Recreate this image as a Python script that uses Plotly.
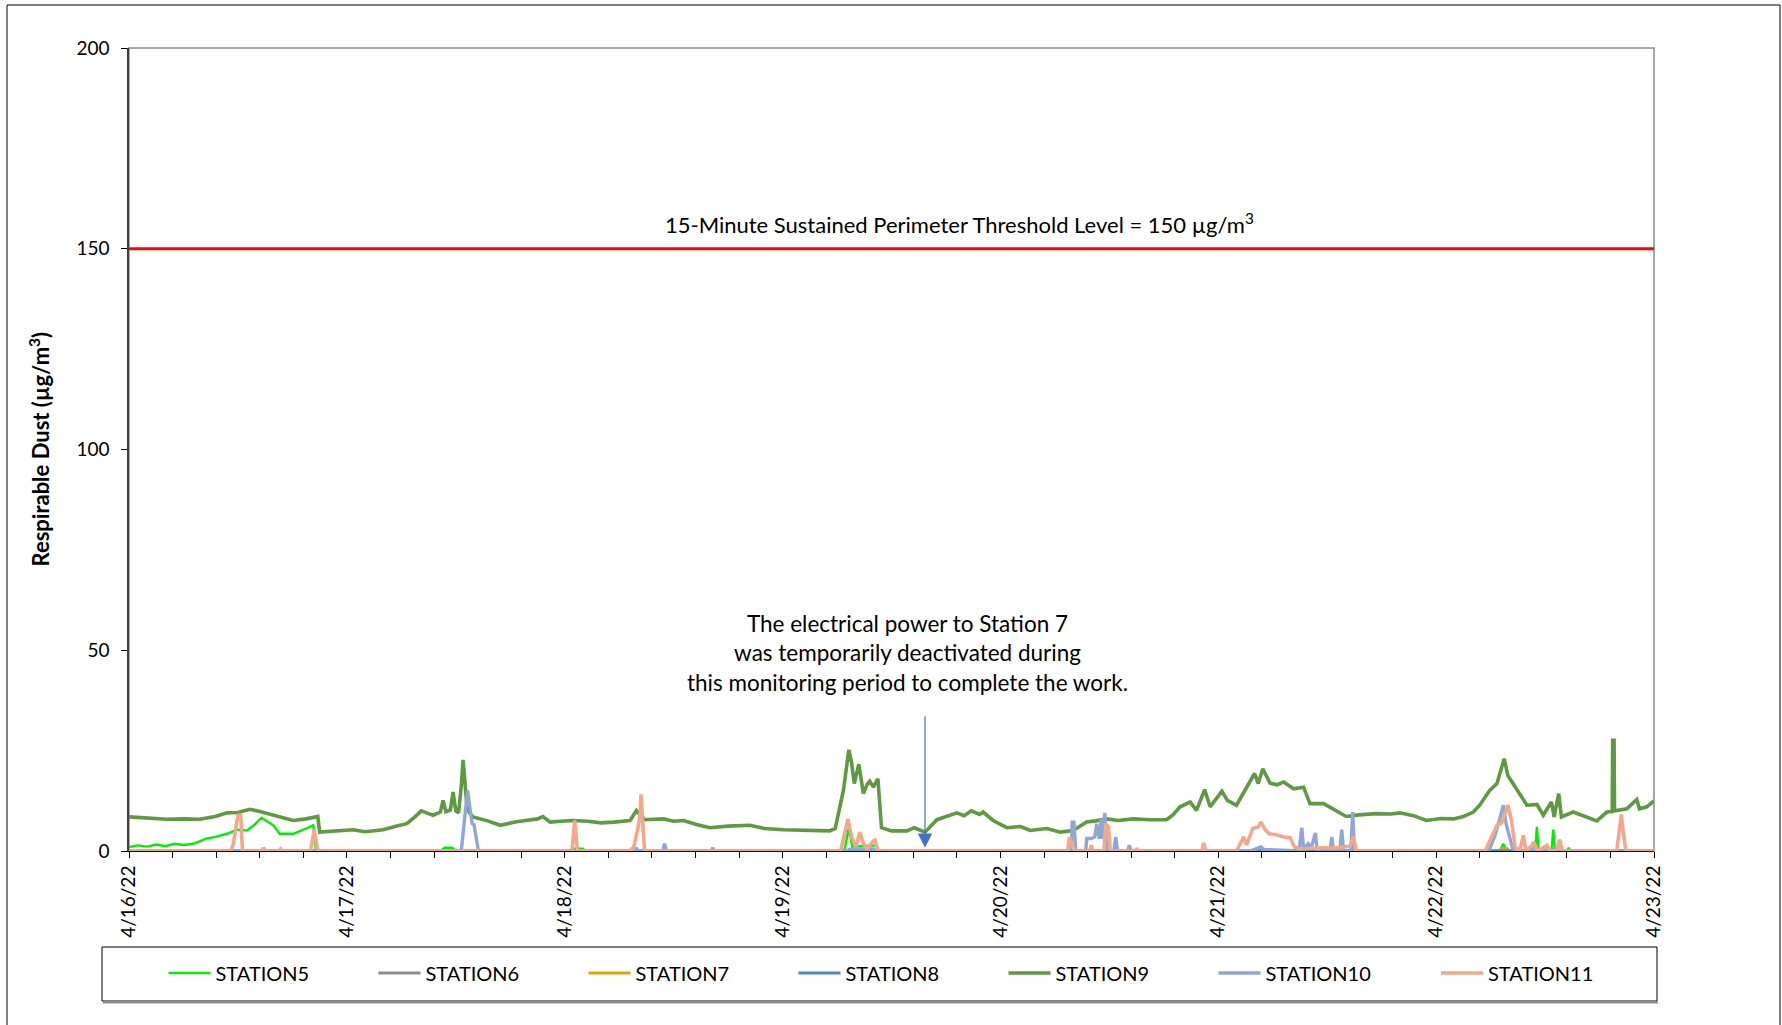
import pandas as pd
import plotly.graph_objects as go

START = pd.Timestamp("2022-04-16 00:00")
END = pd.Timestamp("2022-04-23 00:00")

# ---- data: hours since 4/16/22 00:00 and concentrations (µg/m³) ----
st5_h = [0, 1, 2, 3, 4, 5, 6, 7.1, 8.5, 9.5, 10.8, 11.9, 13.0, 13.8, 14.6, 15.2, 15.9, 16.6, 18.1, 19.5, 20.3, 20.6,
         34.3, 34.8, 35.6, 36.0, 48.6, 48.8, 50.0, 50.2, 78.8, 79.3, 79.7, 80.5, 82.3, 82.6,
         151.0, 151.4, 151.8, 154.9, 155.1, 155.3, 156.7, 156.9, 157.1, 158.4, 158.6, 158.8, 168]
st5_v = [1.0, 1.4, 1.1, 1.6, 1.2, 1.8, 1.5, 1.8, 3.1, 3.5, 4.3, 5.3, 5.1, 6.5, 8.3, 7.5, 6.4, 4.3, 4.3, 5.6, 6.4, 0,
         0, 0.8, 0.8, 0, 0, 0.6, 0.6, 0, 0, 5.8, 0.8, 1.2, 1.4, 0,
         0, 1.8, 0, 0, 6.0, 0, 0, 5.3, 0, 0, 0.8, 0, 0]

st6_h = [0, 168]
st6_v = [0, 0]

st7_h = [0, 124.6, 124.8, 125.0, 151.0, 151.2, 151.8, 152.0, 168]
st7_v = [0, 0, 0.5, 0, 0, 0.6, 0.6, 0, 0]

st8_h = [0, 168]
st8_v = [0, 0]

st9_h = [0, 2, 4.15, 6, 7.8, 9.5, 10.8, 12, 13.3, 14.5, 15.9, 17, 18.1, 19.5, 20.5, 20.8, 21.0, 22.5, 24.7, 26,
         28.0, 29.5, 30.6, 31.5, 32.2, 33.0, 33.5, 34.3, 34.6, 34.9, 35.4, 35.7, 36.0, 36.3, 36.6, 36.8, 37.0,
         37.2, 37.5, 37.9, 39.5, 40.9, 42.5, 43.8, 45.0, 45.6, 46.4, 47.5, 48.9, 50.5, 52, 53.4, 55.2, 55.9,
         56.8, 58.9, 60, 61.1, 62.5, 64.0, 66, 68.4, 70, 72.1, 74.5, 77.2, 77.8, 78.7, 79.3, 79.6, 79.9, 80.4,
         80.9, 81.3, 81.6, 82.0, 82.5, 82.9, 84, 85.7, 86.5, 87.7, 89.0, 90, 91.2, 92, 92.8, 93.7, 94.1, 95.2,
         96.7, 98.2, 99.3, 101.1, 102.6, 104.0, 105.5, 106.5, 107.7, 109, 110.6, 112.5, 114.3, 115.0, 115.8,
         116.9, 117.6, 118.5, 119.1, 120.4, 121, 122.0, 123.1, 124.0, 124.4, 124.9, 125.7, 126.5, 127.2, 128.3,
         129.4, 130.1, 131.6, 133.0, 134.1, 135.5, 137.4, 139, 140.0, 141.5, 142.9, 144.5, 145.9, 147, 148.1,
         148.8, 149.9, 150.7, 151.5, 151.9, 152.9, 154.0, 155.1, 155.8, 156.7, 157.0, 157.5, 157.8, 159.1,
         160.6, 161.7, 162.8, 163.4, 163.45, 163.6, 163.65, 165.0, 166.1, 166.4, 167.2, 168.0]
st9_v = [8.5, 8.3, 7.9, 8.0, 7.9, 8.6, 9.5, 9.6, 10.4, 9.8, 8.9, 8.2, 7.6, 8.0, 8.5, 8.6, 4.7, 5.0, 5.3, 4.8,
         5.3, 6.2, 6.8, 8.5, 10.0, 9.3, 8.9, 9.7, 12.6, 9.8, 10.2, 14.7, 10.0, 9.5, 16.0, 22.7, 16.8,
         12.0, 9.5, 8.5, 7.5, 6.4, 7.2, 7.6, 8.0, 8.6, 7.2, 7.4, 7.6, 7.4, 7.0, 7.2, 7.6, 10.1,
         7.8, 8.0, 7.4, 7.6, 6.6, 5.8, 6.2, 6.4, 5.6, 5.3, 5.1, 5.0, 5.6, 15.1, 25.2, 22.0, 16.8, 21.6,
         14.3, 16.5, 17.4, 15.9, 18.0, 5.8, 5.0, 5.0, 5.8, 4.7, 7.8, 8.6, 9.5, 8.8, 10.0, 9.1, 9.7, 7.6,
         5.8, 6.1, 5.1, 5.6, 4.7, 5.1, 7.2, 7.5, 8.0, 7.6, 8.0, 7.8, 7.8, 9.0, 11.0,
         12.2, 10.1, 15.3, 11.0, 14.9, 12.6, 11.4, 15.9, 19.3, 16.8, 20.5, 16.9, 16.5, 17.2, 15.5,
         15.9, 11.8, 11.8, 10.1, 8.6, 9.0, 9.3, 9.2, 9.5, 8.8, 7.6, 8.1, 8.0, 8.6, 9.7,
         11.4, 15.1, 16.8, 23.0, 18.8, 15.1, 11.4, 11.6, 8.9, 12.2, 8.5, 14.3, 8.5, 9.7,
         8.5, 7.5, 9.7, 9.8, 27.6, 27.6, 10.0, 10.5, 12.8, 10.5, 11.0, 12.5]

st10_h = [0, 14.7, 14.9, 15.1, 36.6, 37.0, 37.3, 37.6, 37.8, 38.0, 38.3, 38.5, 55.7, 55.9, 56.1, 58.8, 59.0, 59.2,
          64.1, 64.3, 64.5, 79.0, 79.5, 82.0, 82.3, 103.8, 103.9, 104.1, 104.3, 105.4, 105.5, 106.0, 106.4,
          106.6, 106.9, 107.1, 107.3, 107.5, 107.7, 108.5, 108.7, 108.9, 110.0, 110.2, 110.4, 123.5, 124.7,
          125.0, 128.9, 129.2, 129.4, 129.9, 130.2, 130.7, 130.9, 132.3, 132.5, 132.7, 133.4, 133.6, 133.8,
          134.6, 134.8, 135.0, 149.8, 150.5, 151.0, 151.4, 151.7, 152.1, 152.5, 154.5, 154.7, 154.9, 156.8,
          157.0, 157.2, 168]
st10_v = [0, 0, 0.5, 0, 0, 9.0, 15.1, 10.0, 6.8, 6.6, 2.0, 0, 0, 0.8, 0, 0, 1.8, 0,
          0, 0.8, 0, 0, 0.5, 0.5, 0, 0, 7.2, 7.2, 0, 0, 3.1, 3.1, 3.5,
          6.8, 3.0, 8.0, 3.0, 9.5, 0, 0, 3.5, 0, 0, 1.4, 0, 0, 1.0,
          0.4, 0, 5.8, 0.5, 1.8, 0.5, 4.5, 0, 0, 3.5, 0, 0, 5.3, 0,
          0, 9.7, 0, 0, 4.0, 8.0, 11.4, 6.8, 3.0, 0, 0, 2.2, 0, 0,
          0.8, 0, 0]

st11_h = [0, 11.2, 11.5, 12.0, 12.3, 12.5, 14.6, 14.8, 15.0, 16.5, 16.7, 16.9, 20.0, 20.4, 20.8, 48.8, 49.1, 49.4,
          55.1, 55.6, 56.1, 56.3, 56.4, 56.6, 56.8, 78.4, 78.9, 79.2, 79.6, 80.1, 80.5, 80.9, 81.3, 82.0, 82.2,
          82.5, 103.4, 103.6, 103.9, 104.2, 105.8, 106.0, 106.2, 107.4, 107.6, 107.9, 108.1, 110.9, 111.0,
          111.2, 118.2, 118.4, 118.6, 122.0, 122.8, 123.1, 123.8, 124.4, 124.7, 125.1, 125.6, 126.5, 127.2,
          127.9, 128.4, 129.0, 131.5, 133.0, 134.5, 134.9, 135.2, 149.4, 150.2, 150.7, 151.2, 151.9, 152.3,
          152.7, 153.2, 153.6, 153.9, 154.8, 155.2, 156.2, 156.5, 157.3, 157.6, 157.9, 163.9, 164.2, 164.4,
          164.6, 164.9, 168]
st11_v = [0, 0, 1.8, 8.9, 8.9, 0, 0, 0.8, 0, 0, 0.5, 0, 0, 5.3, 0, 0, 7.6, 0,
          0, 1.0, 6.0, 9.0, 14.1, 6.0, 0, 0, 5.0, 8.0, 3.5, 1.0, 4.7, 1.8, 0.5, 2.5, 2.7,
          0, 0, 3.5, 1.5, 0, 0, 1.4, 0, 0, 6.8, 6.0, 0, 0, 0.7,
          0, 0, 2.0, 0, 0, 3.5, 1.5, 5.6, 6.0, 7.2, 5.5, 4.3, 4.0, 3.5,
          3.3, 1.0, 0.5, 0.8, 0.8, 1.2, 3.5, 0, 0, 4.0, 6.4, 7.0, 11.4, 7.6,
          1.0, 0, 3.9, 0, 1.8, 0, 1.4, 0, 0, 2.8, 0, 0, 5.0, 9.1,
          5.0, 0, 0]

threshold = 150
day_ticks = ["2022-04-16", "2022-04-17", "2022-04-18", "2022-04-19", "2022-04-20", "2022-04-21", "2022-04-22", "2022-04-23"]
day_labels = ["4/16/22", "4/17/22", "4/18/22", "4/19/22", "4/20/22", "4/21/22", "4/22/22", "4/23/22"]
y_ticks = [0, 50, 100, 150, 200]

series = [
    ("STATION5", st5_h, st5_v, "#00EE00", 2.4, "legend"),
    ("STATION6", st6_h, st6_v, "#8C8C8C", 3, "legend"),
    ("STATION7", st7_h, st7_v, "#E0A500", 3, "legend"),
    ("STATION8", st8_h, st8_v, "#4E85C5", 3, "legend"),
    ("STATION9", st9_h, st9_v, "#5E9A3F", 3.6, "legend"),
    ("STATION10", st10_h, st10_v, "#8FA6D9", 3.4, "legend"),
    ("STATION11", st11_h, st11_v, "#F3A989", 3.6, "legend2"),
]

FONT = "Lato"

def to_time(hours):
    return START + pd.to_timedelta(hours, unit="h")

fig = go.Figure()
for name, h, v, color, w, lg in series:
    fig.add_trace(go.Scatter(x=to_time(h), y=v, mode="lines", name=name, legend=lg,
                             line=dict(color=color, width=w)))

# threshold line
fig.add_trace(go.Scatter(x=[START, END], y=[threshold, threshold], mode="lines",
                         line=dict(color="#FF0000", width=3), showlegend=False, hoverinfo="skip"))

W, H = 1782, 1025
L, R, T, B = 129, 128, 48, 174
pw, ph = W - L - R, H - T - B

def px_x(x):
    return (x - L) / pw

def px_y(y):
    return (H - B - y) / ph

legend_common = dict(orientation="h", xanchor="left", y=px_y(973), yanchor="middle",
                     font=dict(family=FONT, size=20, color="black"),
                     bgcolor="rgba(0,0,0,0)", borderwidth=0,
                     itemwidth=42, entrywidth=153, entrywidthmode="pixels", traceorder="normal")

fig.update_layout(
    width=W, height=H,
    margin=dict(l=L, r=R, t=T, b=B),
    paper_bgcolor="white", plot_bgcolor="white",
    font=dict(family=FONT, size=19, color="black"),
    showlegend=True,
    legend=dict(x=px_x(163.5), **legend_common),
    legend2=dict(x=px_x(163.5 + 6 * 210 + 12.5), **legend_common),
    xaxis=dict(type="date", range=[START, END], tickvals=day_ticks, ticktext=day_labels,
               tickangle=-90, ticks="outside", ticklen=6, tickcolor="black",
               showgrid=False, zeroline=False, showline=True, linecolor="black", linewidth=1,
               tickfont=dict(family=FONT, size=19),
               minor=dict(ticks="outside", ticklen=6, tickcolor="black",
                          dtick=4.8 * 3600 * 1000, tick0="2022-04-16", showgrid=False)),
    yaxis=dict(range=[0, 200], tickvals=y_ticks, ticks="outside", ticklen=6, tickcolor="black",
               showgrid=False, zeroline=False, showline=True, linecolor="#404040", linewidth=1.5,
               tickfont=dict(family=FONT, size=19), ticklabelstandoff=8),
    shapes=[
        dict(type="rect", xref="paper", yref="paper", x0=0, x1=1, y0=0, y1=1,
             line=dict(color="#8C8C8C", width=1.5), layer="below"),
        dict(type="rect", xref="paper", yref="paper", x0=px_x(7), x1=px_x(1780), y0=px_y(1030), y1=px_y(5),
             line=dict(color="black", width=1)),
        dict(type="rect", xref="paper", yref="paper", x0=px_x(102), x1=px_x(1657), y0=px_y(1001), y1=px_y(947),
             line=dict(color="black", width=1)),
        dict(type="line", xref="paper", yref="paper", x0=px_x(103), x1=px_x(1658), y0=px_y(1002.5), y1=px_y(1002.5),
             line=dict(color="#8C8C8C", width=2)),
    ],
    annotations=[
        dict(text="<b>Respirable Dust (µg/m<sup>3</sup>)</b>", xref="paper", yref="paper",
             x=px_x(39), y=0.5, textangle=-90, showarrow=False, xanchor="center", yanchor="middle",
             font=dict(family=FONT, size=22)),
        dict(text="15-Minute Sustained Perimeter Threshold Level = 150 µg/m<sup>3</sup>",
             xref="paper", yref="y", x=px_x(959), y=156.2, showarrow=False, xanchor="center", yanchor="middle",
             font=dict(family=FONT, size=22)),
        dict(text="The electrical power to Station 7<br>was temporarily deactivated during<br>this monitoring period to complete the work.",
             xref="paper", yref="y", x=px_x(907), y=49.3, showarrow=False, xanchor="center", yanchor="middle",
             align="center", font=dict(family=FONT, size=22.5)),
        dict(text="", x=to_time(87.69), y=0.8, xref="x", yref="y", showarrow=True,
             ax=0, ay=-133, arrowhead=2, arrowsize=2.4, arrowwidth=1.2, arrowcolor="#4472C4"),
    ],
)

fig.write_html("out.html", config={"displayModeBar": False},
               post_script="document.body.style.margin='0px';document.body.style.overflow='hidden';")
